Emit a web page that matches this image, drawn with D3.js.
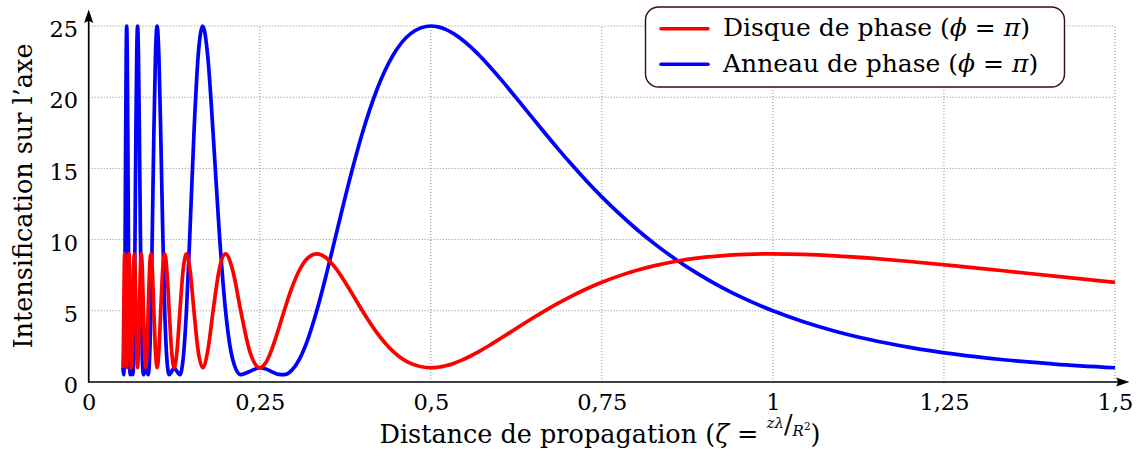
<!DOCTYPE html>
<html><head><meta charset="utf-8">
<script src="https://cdn.jsdelivr.net/npm/d3@7"></script>
<style>
html,body{margin:0;padding:0;background:#fff;}
svg{display:block;font-family:"DejaVu Serif",serif;}
</style>
</head><body>
<svg id="chart" width="1136" height="452"></svg>
<script>
// ---- data ----
const zeta = [0.05,0.050633,0.051282,0.051948,0.052632,0.053333,0.054054,0.054795,0.055556,0.056338,0.057143,0.057971,0.058824,0.059701,0.060606,0.061538,
0.0625,0.063492,0.064516,0.065574,0.066667,0.067797,0.068966,0.070175,0.071429,0.072727,0.074074,0.075472,0.076923,0.078431,0.08,0.081633,
0.083333,0.085106,0.086957,0.088889,0.090909,0.093023,0.095238,0.097561,0.1,0.102564,0.105263,0.108108,0.111111,0.114286,0.117647,0.121212,
0.125,0.129032,0.133333,0.137931,0.142857,0.148148,0.153846,0.16,0.166667,0.173913,0.181818,0.190476,0.2,0.210526,0.222222,0.235294,
0.25,0.258065,0.266667,0.275862,0.285714,0.296296,0.307692,0.32,0.333333,0.347826,0.363636,0.380952,0.4,0.421053,0.444444,0.470588,0.5,
0.510638,0.521739,0.533333,0.545455,0.55814,0.571429,0.585366,0.6,0.615385,0.631579,0.648649,0.666667,0.685714,0.705882,0.727273,0.75,
0.774194,0.8,0.827586,0.857143,0.888889,0.923077,0.96,1,1.043478,1.090909,1.142857,1.2,1.263158,1.333333,1.411765,1.5];

const disque = [1,2.1716,5,7.8284,9,7.8284,5,2.1716,1,2.1716,5,7.8284,9,7.8284,5,2.1716,
1,2.1716,5,7.8284,9,7.8284,5,2.1716,1,2.1716,5,7.8284,9,7.8284,5,2.1716,
1,2.1716,5,7.8284,9,7.8284,5,2.1716,1,2.1716,5,7.8284,9,7.8284,5,2.1716,
1,2.1716,5,7.8284,9,7.8284,5,2.1716,1,2.1716,5,7.8284,9,7.8284,5,2.1716,
1,1.3044,2.1716,3.4693,5,6.5307,7.8284,8.6955,9,8.6955,7.8284,6.5307,5,3.4693,2.1716,1.3044,1,
1.0342,1.1363,1.3044,1.5359,1.8266,2.1716,2.565,3,3.4693,3.9648,4.4779,5,5.5221,6.0353,6.5307,7,
7.435,7.8284,8.1734,8.4641,8.6955,8.8637,8.9658,9,8.9658,8.8637,8.6955,8.4641,8.1734,7.8284,7.435,7];

const anneau = [1,0.7418,0.5147,1.5794,5,10.7638,17.4853,22.915,25,22.915,17.4853,10.7638,5,1.5794,0.5147,0.7418,
1,0.7418,0.5147,1.5794,5,10.7638,17.4853,22.915,25,22.915,17.4853,10.7638,5,1.5794,0.5147,0.7418,
1,0.7418,0.5147,1.5794,5,10.7638,17.4853,22.915,25,22.915,17.4853,10.7638,5,1.5794,0.5147,0.7418,
1,0.7418,0.5147,1.5794,5,10.7638,17.4853,22.915,25,22.915,17.4853,10.7638,5,1.5794,0.5147,0.7418,
1,0.9261,0.7418,0.5531,0.5147,0.8024,1.5794,2.9634,5,7.6456,10.7637,14.1361,17.4853,20.5084,22.915,24.4651,25,
24.9401,24.761,24.4651,24.0552,23.5366,22.915,22.1975,21.3924,20.5084,19.5554,18.5442,17.4853,16.3901,15.2698,14.1361,13,
11.8725,10.7637,9.6839,8.6417,7.6456,6.7027,5.819,5,4.2494,3.5699,2.9634,2.4301,1.9693,1.5794,1.2575,1];

const xTicks = [0,0.25,0.5,0.75,1,1.25,1.5];
const xTickLabels = ["0","0,25","0,5","0,75","1","1,25","1,5"];
const yTicks = [0,5,10,15,20,25];
const yTickLabels = ["0","5","10","15","20","25"];
const seriesNames = ["Disque de phase","Anneau de phase"];
const seriesColors = ["#ff0000","#0000ff"];

// ---- layout ----
const svg = d3.select("#chart");
const x = d3.scaleLinear().domain([0,1.5]).range([88.7,1115]);
const y = d3.scaleLinear().domain([0,25]).range([382,26]);

// grid
const grid = svg.append("g").attr("stroke","#8c8c8c").attr("stroke-width",1).attr("stroke-dasharray","1,2");
grid.selectAll("line.v").data(xTicks.filter(d=>d>0)).join("line")
  .attr("x1",d=>x(d)).attr("x2",d=>x(d)).attr("y1",y(0)).attr("y2",y(25));
grid.selectAll("line.h").data(yTicks.filter(d=>d>0)).join("line")
  .attr("x1",x(0)).attr("x2",x(1.5)).attr("y1",d=>y(d)).attr("y2",d=>y(d));

// curves
const pts = (vals)=>zeta.map((z,i)=>[z,vals[i]]);
const line = d3.line().x(d=>x(d[0])).y(d=>y(d[1])).curve(d3.curveMonotoneX);
svg.append("path").attr("d",line(pts(anneau))).attr("fill","none")
  .attr("stroke",seriesColors[1]).attr("stroke-width",3.7).attr("stroke-linejoin","round");
svg.append("path").attr("d",line(pts(disque))).attr("fill","none")
  .attr("stroke",seriesColors[0]).attr("stroke-width",3.7).attr("stroke-linejoin","round");

// axes
const xAxis = d3.axisBottom(x).tickValues(xTicks).tickFormat((d,i)=>xTickLabels[i]).tickSize(0);
const gx = svg.append("g").attr("transform",`translate(0,${y(0)})`).call(xAxis);
gx.select(".domain").remove();
gx.selectAll("text").attr("y",27.5).attr("dy",null).attr("font-size",22.5)
  .attr("font-family","DejaVu Serif").attr("fill","#000");

const yAxis = d3.axisLeft(y).tickValues(yTicks).tickFormat((d,i)=>yTickLabels[i]).tickSize(0);
const gy = svg.append("g").attr("transform",`translate(${x(0)},0)`).call(yAxis);
gy.select(".domain").remove();
gy.selectAll("text").attr("x",-10.5).attr("dy",null).attr("y",10.7).attr("font-size",22.5)
  .attr("font-family","DejaVu Serif").attr("fill","#000");

// axis lines with arrows
const x0 = x(0), y0 = y(0);
svg.append("line").attr("x1",x0).attr("x2",1120).attr("y1",y0).attr("y2",y0).attr("stroke","#000").attr("stroke-width",1.7);
svg.append("line").attr("x1",x0).attr("x2",x0).attr("y1",y0+0.8).attr("y2",18).attr("stroke","#000").attr("stroke-width",1.7);
svg.append("path").attr("d",`M${x0},9.5 L${x0-4.6},23 Q${x0},19.5 ${x0+4.6},23 Z`).attr("fill","#000");
svg.append("path").attr("d",`M1129.5,${y0} L1116,${y0-4.6} Q1119.5,${y0} 1116,${y0+4.6} Z`).attr("fill","#000");

// axis titles
const xt = svg.append("text").attr("x",600).attr("y",443).attr("text-anchor","middle")
  .attr("font-size",25.5).attr("fill","#000");
xt.append("tspan").text("Distance de propagation (");
xt.append("tspan").attr("font-style","italic").text("ζ");
xt.append("tspan").text(" = ");
xt.append("tspan").attr("font-style","italic").attr("font-size",15).attr("dy",-15).text("zλ");
xt.append("tspan").attr("dy",5).text("/");
xt.append("tspan").attr("font-style","italic").attr("font-size",15).attr("dy",3).text("R");
xt.append("tspan").attr("font-size",10.5).attr("dy",-6).text("2");
xt.append("tspan").attr("dy",13).text(")");

svg.append("text").attr("transform","translate(32,196) rotate(-90)").attr("text-anchor","middle")
  .attr("font-size",25.5).attr("fill","#000").text("Intensification sur l’axe");

// legend
const lg = svg.append("g");
lg.append("rect").attr("x",645.5).attr("y",7).attr("width",419).attr("height",80).attr("rx",13)
  .attr("fill","#fff").attr("stroke","#3a0d0d").attr("stroke-width",1.4);
seriesNames.forEach((name,i)=>{
  const yy = 28.7 + i*35.6;
  lg.append("line").attr("x1",661).attr("x2",708).attr("y1",yy).attr("y2",yy)
    .attr("stroke",seriesColors[i]).attr("stroke-width",3.5).attr("stroke-linecap","round");
  const t = lg.append("text").attr("x",723).attr("y",yy+7.5).attr("font-size",25).attr("fill","#000");
  t.append("tspan").text(name+" (");
  t.append("tspan").attr("font-style","italic").text("ϕ");
  t.append("tspan").text(" = ");
  t.append("tspan").attr("font-style","italic").text("π");
  t.append("tspan").text(")");
});
</script>
</body></html>
